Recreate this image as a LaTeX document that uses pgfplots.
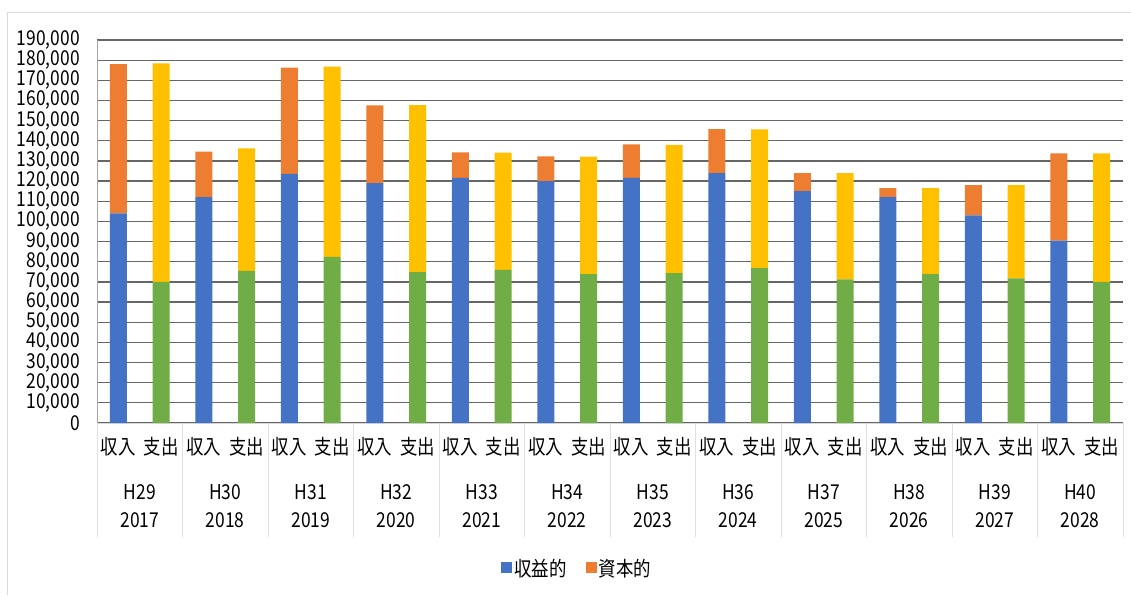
\documentclass[border=0pt]{standalone}
\usepackage{pgfplots}
\pgfplotsset{compat=1.18}
\usepackage{pgfplotstable}
\usepackage{fontspec}
\setmainfont{Noto Sans CJK JP}[FakeStretch=0.85]
\definecolor{cblue}{HTML}{4472C4}
\definecolor{corange}{HTML}{ED7D31}
\definecolor{cgreen}{HTML}{70AD47}
\definecolor{cyellow}{HTML}{FFC000}

% x: position; a: 収入・収益的; b: 収入・資本的; c: 支出・収益的; d: 支出・資本的
\pgfplotstableread{
x a b c d
-0.25 104000 74000 0 0
0.25 0 0 70000 108400
0.75 112000 22600 0 0
1.25 0 0 75500 60700
1.75 123600 52700 0 0
2.25 0 0 82400 94400
2.75 119000 38600 0 0
3.25 0 0 74800 82900
3.75 121600 12700 0 0
4.25 0 0 76000 58100
4.75 120000 12300 0 0
5.25 0 0 73800 58300
5.75 121600 16600 0 0
6.25 0 0 74300 63700
6.75 124000 21800 0 0
7.25 0 0 76800 68900
7.75 115000 9000 0 0
8.25 0 0 71300 52700
8.75 112000 4500 0 0
9.25 0 0 73800 42700
9.75 103000 15000 0 0
10.25 0 0 71800 46200
10.75 90500 43300 0 0
11.25 0 0 70000 63800
}\data

\begin{document}
\begin{tikzpicture}[yl/.style={align=center, inner sep=0pt, font=\fontsize{20.5}{28}\selectfont, yshift=-83pt}]
\useasboundingbox (0,0) rectangle (1131pt,595pt);
\fill[white] (0,0) rectangle (1131pt,595pt);
\draw[gray!30, line width=1pt] (7pt,0) -- (7pt,582pt) -- (1131pt,582pt);
\begin{axis}[
  at={(97pt,172pt)}, anchor=south west,
  scale only axis, width=1026pt, height=383pt,
  xmin=-0.5, xmax=11.5, ymin=0, ymax=190000,
  ybar stacked, bar width=0.2,
  ytick={0,10000,...,190000},
  yticklabels={0,{10,000},{20,000},{30,000},{40,000},{50,000},{60,000},{70,000},{80,000},{90,000},{100,000},{110,000},{120,000},{130,000},{140,000},{150,000},{160,000},{170,000},{180,000},{190,000}},
  scaled y ticks=false, scaled x ticks=false,
  ymajorgrids, major grid style={black!60, line width=1.3pt},
  axis x line=bottom, axis y line=left,
  x axis line style={-, draw=gray!30, line width=1pt},
  y axis line style={-, draw=gray!70, line width=1pt},
  major tick length=0pt,
  xtick={-0.25,0.25,...,11.25},
  xticklabels={収入,支出,収入,支出,収入,支出,収入,支出,収入,支出,収入,支出,収入,支出,収入,支出,収入,支出,収入,支出,収入,支出,収入,支出},
  minor xtick={-0.5,0.5,...,11.5},
  minor tick length=114pt,
  xtick align=outside,
  minor tick style={draw=gray!25, line width=1pt},
  tick label style={font=\fontsize{20.5}{28}\selectfont, text=black},
  yticklabel style={inner sep=0pt, xshift=-17pt},
  xticklabel style={inner sep=0pt, anchor=center, yshift=-24pt},
  legend image code/.code={\fill[#1] (0pt,-5pt) rectangle (11pt,6pt);},
  legend style={at={(0.468,-0.379)}, anchor=center, draw=none, fill=none,
    legend columns=2, font=\fontsize{20.5}{24}\selectfont,
    /tikz/every even column/.append style={column sep=17pt},
    inner sep=0pt},
  clip=false,
]
\addplot[fill=cblue, draw=none] table[x=x, y=a] {\data};
\addplot[fill=corange, draw=none] table[x=x, y=b] {\data};
\addplot[fill=cgreen, draw=none] table[x=x, y=c] {\data};
\addplot[fill=cyellow, draw=none] table[x=x, y=d] {\data};
\legend{収益的,資本的}
\node[yl] at (axis cs:0,0) {H29\\2017};
\node[yl] at (axis cs:1,0) {H30\\2018};
\node[yl] at (axis cs:2,0) {H31\\2019};
\node[yl] at (axis cs:3,0) {H32\\2020};
\node[yl] at (axis cs:4,0) {H33\\2021};
\node[yl] at (axis cs:5,0) {H34\\2022};
\node[yl] at (axis cs:6,0) {H35\\2023};
\node[yl] at (axis cs:7,0) {H36\\2024};
\node[yl] at (axis cs:8,0) {H37\\2025};
\node[yl] at (axis cs:9,0) {H38\\2026};
\node[yl] at (axis cs:10,0) {H39\\2027};
\node[yl] at (axis cs:11,0) {H40\\2028};
\end{axis}
\end{tikzpicture}
\end{document}
